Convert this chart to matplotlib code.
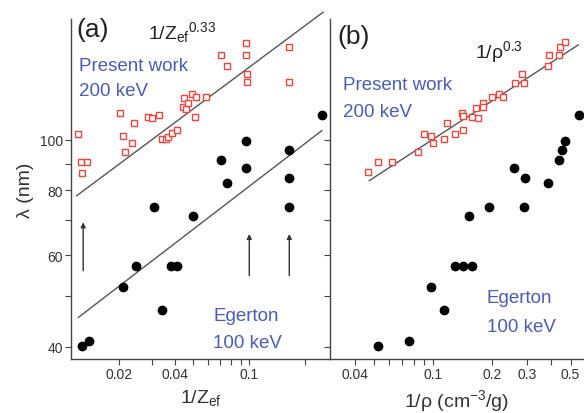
import matplotlib
matplotlib.use("Agg")
import matplotlib.pyplot as plt
from matplotlib.ticker import FixedLocator, FixedFormatter, NullFormatter

plt.rcParams['font.family'] = ['Liberation Sans', 'DejaVu Sans']
plt.rcParams['mathtext.fontset'] = 'custom'
plt.rcParams['mathtext.rm'] = 'Liberation Sans'
plt.rcParams['mathtext.it'] = 'Liberation Sans:italic'

# --- data ---
# panel (a): present work, 200 keV (open squares)
a_sq_x = [0.01208, 0.01245, 0.01351, 0.01270, 0.02025, 0.02094, 0.02154, 0.02358,
          0.02417, 0.02873, 0.02997, 0.03293, 0.03393, 0.03578, 0.03682, 0.03840,
          0.04115, 0.04433, 0.04583, 0.04488, 0.04699, 0.04955, 0.05168, 0.05123,
          0.05871, 0.07045, 0.07586, 0.09634, 0.09634, 0.09719, 0.09719, 0.1634, 0.1634]
a_sq_y = [102.7, 90.6, 90.6, 86.4, 112.7, 101.7, 94.7, 98.7,
          107.7, 110.6, 110.1, 111.7, 100.4, 100.4, 101.2, 103.2,
          104.7, 115.6, 114.7, 120.6, 117.8, 122.6, 120.9, 110.9,
          120.9, 146.0, 139.0, 153.8, 146.0, 134.0, 129.1, 151.3, 129.1]

# Egerton, 100 keV (filled dots), same lambda in both panels
eg_y = [111.7, 99.7, 95.7, 91.5, 88.3, 82.5, 84.5, 74.4, 74.4, 71.3,
        57.1, 57.1, 57.1, 52.2, 47.1, 40.05, 41.05]
eg_zef = [0.2459, 0.0963, 0.1634, 0.0705, 0.0963, 0.0759, 0.1634, 0.1634, 0.03095, 0.0498,
          0.02468, 0.03807, 0.04115, 0.02109, 0.03418, 0.0126, 0.01379]
eg_rho = [0.5529, 0.4679, 0.4501, 0.4377, 0.2587, 0.3821, 0.2931, 0.2907, 0.1925, 0.1529,
          0.1293, 0.1425, 0.1572, 0.09734, 0.1137, 0.0524, 0.07582]

# panel (b): present work vs 1/rho
b_sq_x = [0.04695, 0.05277, 0.06172, 0.08422, 0.09001, 0.09734, 0.1003, 0.1137,
          0.1182, 0.1293, 0.1425, 0.1399, 0.1415, 0.1583, 0.1698, 0.1647,
          0.1800, 0.1800, 0.2000, 0.2163, 0.2258, 0.2608, 0.2840, 0.2907,
          0.3821, 0.3879, 0.4377, 0.4413, 0.4679]
b_sq_y = [86.7, 90.6, 90.6, 94.7, 102.7, 101.7, 98.7, 100.4,
          107.7, 102.7, 104.7, 112.7, 111.1, 110.6, 110.1, 115.1,
          117.8, 115.6, 120.9, 122.6, 120.9, 128.8, 134.0, 128.8,
          139.0, 146.0, 146.0, 150.8, 154.3]

# fitted power-law lines (end points)
fit_a_up_x, fit_a_up_y = [0.01185, 0.2499], [78.1, 176.2]
fit_a_lo_x, fit_a_lo_y = [0.01208, 0.2459], [45.5, 104.2]
fit_b_x, fit_b_y = [0.0475, 0.5465], [83.5, 152.4]

# arrows in (a): x, y start, y end
arrow_x = [0.01284, 0.1003, 0.1646]
arrow_y0 = [56.0, 54.8, 54.8]
arrow_y1 = [69.4, 65.9, 65.9]

ylim = (37.85, 171)
yt_major = [40, 60, 80, 100]
yt_minor = [50, 70, 90]

red = '#e8463f'
blue = '#4a5cb4'
grey = '#555555'

fig = plt.figure(figsize=(5.84, 4.14), dpi=100)
ax1 = fig.add_axes([71/584, 54/414, 259/584, 340/414])
ax2 = fig.add_axes([330/584, 54/414, 254/584, 340/414])

for ax in (ax1, ax2):
    ax.set_xscale('log')
    ax.set_yscale('log')
    ax.set_ylim(*ylim)
    for s in ('top', 'right'):
        ax.spines[s].set_visible(False)
    for s in ('left', 'bottom'):
        ax.spines[s].set_color('#444444')
        ax.spines[s].set_linewidth(1.0)
    ax.yaxis.set_major_locator(FixedLocator(yt_major))
    ax.yaxis.set_minor_locator(FixedLocator(yt_minor))
    ax.yaxis.set_major_formatter(FixedFormatter([str(v) for v in yt_major]))
    ax.yaxis.set_minor_formatter(NullFormatter())
    ax.tick_params(which='both', direction='out', length=4, width=0.8,
                   color='#444444', labelsize=10, labelcolor='#333333', pad=2)
    ax.patch.set_alpha(0)

# ---- panel (a) ----
ax1.set_xlim(0.01104, 0.2724)
ax1.xaxis.set_major_locator(FixedLocator([0.02, 0.04, 0.1]))
ax1.xaxis.set_major_formatter(FixedFormatter(['0.02', '0.04', '0.1']))
ax1.xaxis.set_minor_locator(FixedLocator([0.03, 0.05, 0.06, 0.07, 0.08, 0.09, 0.2]))
ax1.xaxis.set_minor_formatter(NullFormatter())

ax1.plot(fit_a_up_x, fit_a_up_y, color=grey, lw=1.0, clip_on=False)
ax1.plot(fit_a_lo_x, fit_a_lo_y, color=grey, lw=1.0, clip_on=False)
ax1.plot(a_sq_x, a_sq_y, 's', ms=5, mfc='white', mec=red, mew=1.0, ls='none', clip_on=False)
ax1.plot(eg_zef, eg_y, 'o', ms=6, color='black', ls='none', clip_on=False)
for x, y0, y1 in zip(arrow_x, arrow_y0, arrow_y1):
    ax1.annotate('', xy=(x, y1), xytext=(x, y0),
                 arrowprops=dict(arrowstyle='-|>', color='#333333', lw=1.0,
                                 mutation_scale=7, shrinkA=0, shrinkB=0))

ax1.set_ylabel('λ (nm)', fontsize=14, color='#333333', labelpad=4)
ax1.set_xlabel(r'1/Z$_\mathregular{ef}$', fontsize=14, color='#333333', labelpad=4)

ax1.text(0.022, 0.971, '(a)', transform=ax1.transAxes, fontsize=19, va='center', color='#222222')
ax1.text(0.297, 0.944, r'1/Z$_\mathregular{ef}{}^\mathregular{0.33}$', transform=ax1.transAxes,
         fontsize=14, va='baseline', color='#222222')
ax1.text(0.030, 0.85, 'Present work', transform=ax1.transAxes, fontsize=13.5, color=blue, va='baseline')
ax1.text(0.030, 0.776, '200 keV', transform=ax1.transAxes, fontsize=13.5, color=blue, va='baseline')
ax1.text(0.549, 0.115, 'Egerton', transform=ax1.transAxes, fontsize=13.5, color=blue, va='baseline')
ax1.text(0.549, 0.034, '100 keV', transform=ax1.transAxes, fontsize=13.5, color=blue, va='baseline')

# ---- panel (b) ----
ax2.set_xlim(0.030, 0.585)
ax2.xaxis.set_major_locator(FixedLocator([0.04, 0.1, 0.2, 0.3, 0.5]))
ax2.xaxis.set_major_formatter(FixedFormatter(['0.04', '0.1', '0.2', '0.3', '0.5']))
ax2.xaxis.set_minor_locator(FixedLocator([0.05, 0.06, 0.07, 0.08, 0.09, 0.4]))
ax2.xaxis.set_minor_formatter(NullFormatter())
ax2.tick_params(axis='y', which='both', labelleft=False)

ax2.plot(fit_b_x, fit_b_y, color=grey, lw=1.0, clip_on=False)
ax2.plot(b_sq_x, b_sq_y, 's', ms=5, mfc='white', mec=red, mew=1.0, ls='none', clip_on=False)
ax2.plot(eg_rho, eg_y, 'o', ms=6, color='black', ls='none', clip_on=False)

ax2.set_xlabel(r'1/ρ (cm$^\mathregular{-3}$/g)', fontsize=14, color='#333333', labelpad=4)

ax2.text(0.031, 0.95, '(b)', transform=ax2.transAxes, fontsize=19, va='center', color='#222222')
ax2.text(0.571, 0.889, r'1/ρ$^\mathregular{0.3}$', transform=ax2.transAxes,
         fontsize=14, va='baseline', color='#222222')
ax2.text(0.051, 0.794, 'Present work', transform=ax2.transAxes, fontsize=13.5, color=blue, va='baseline')
ax2.text(0.051, 0.715, '200 keV', transform=ax2.transAxes, fontsize=13.5, color=blue, va='baseline')
ax2.text(0.617, 0.167, 'Egerton', transform=ax2.transAxes, fontsize=13.5, color=blue, va='baseline')
ax2.text(0.617, 0.083, '100 keV', transform=ax2.transAxes, fontsize=13.5, color=blue, va='baseline')

fig.savefig('out.png', dpi=100)
